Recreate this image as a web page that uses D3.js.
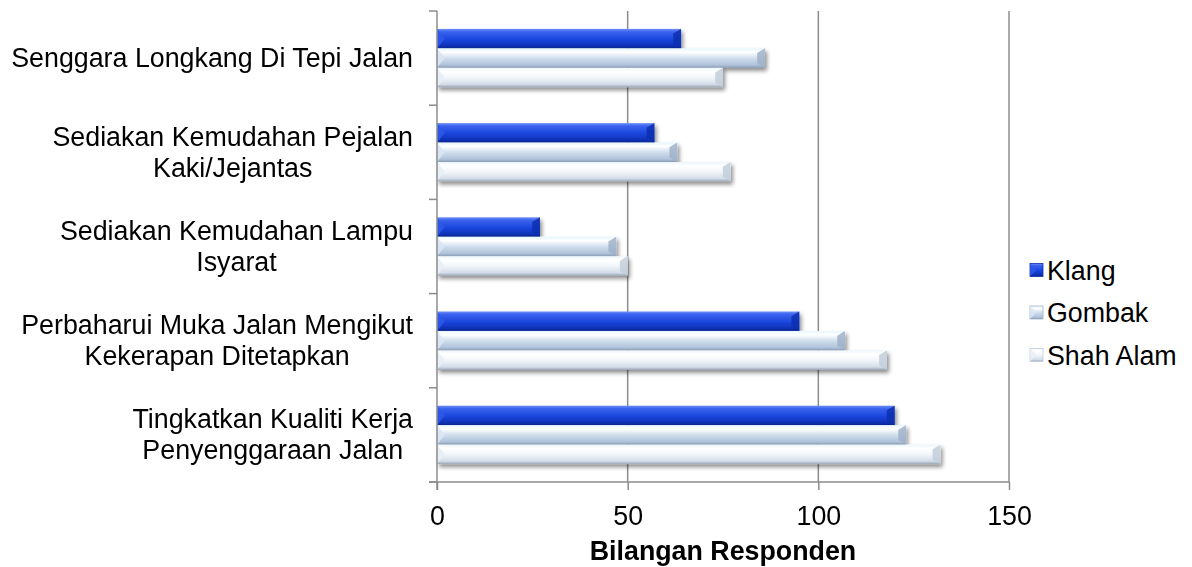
<!DOCTYPE html>
<html>
<head>
<meta charset="utf-8">
<script src="https://cdn.jsdelivr.net/npm/d3@7"></script>
<style>
  body { margin: 0; background: #fff; }
  text { font-family: "Liberation Sans", Arial, sans-serif; }
</style>
</head>
<body>
<div class="chart"></div>
<script>
// categories, top to bottom (lines for wrapped labels)
const categories = [
  ["Senggara Longkang Di Tepi Jalan"],
  ["Sediakan Kemudahan Pejalan", "Kaki/Jejantas"],
  ["Sediakan Kemudahan Lampu", "Isyarat"],
  ["Perbaharui Muka Jalan Mengikut", "Kekerapan Ditetapkan"],
  ["Tingkatkan Kualiti Kerja", "Penyenggaraan Jalan"]
];
const seriesNames = ["Klang", "Gombak", "Shah Alam"];
const klang    = [64, 57, 27, 95, 120];
const gombak   = [86, 63, 47, 107, 123];
const shahAlam = [75, 77, 50, 118, 132];
const xTicks = [0, 50, 100, 150];

const width = 1192, height = 567;
const plotLeft = 437, plotRight = 1009, plotTop = 11, plotBottom = 482;
const fontSize = 26.8;

const svg = d3.select(".chart").append("svg")
    .attr("width", width)
    .attr("height", height);

const defs = svg.append("defs");

// gradients for the bevelled bars
const grads = [
  { id: "g0", stops: [["0%", "#6f8ff5"], ["15%", "#3a63ee"], ["55%", "#1a45dc"], ["85%", "#0f33b8"], ["100%", "#0a2590"]] },
  { id: "g1", stops: [["0%", "#e6f6ff"], ["20%", "#ffffff"], ["50%", "#d0deed"], ["85%", "#b0c3da"], ["100%", "#8a9db5"]] },
  { id: "g2", stops: [["0%", "#eef6fc"], ["20%", "#ffffff"], ["50%", "#f2f6fa"], ["85%", "#d3dde8"], ["100%", "#9aa6b4"]] }
];
grads.forEach(g => {
  const lg = defs.append("linearGradient").attr("id", g.id)
      .attr("x1", 0).attr("y1", 0).attr("x2", 0).attr("y2", 1);
  g.stops.forEach(s => lg.append("stop").attr("offset", s[0]).attr("stop-color", s[1]));
});
const endColors = ["#0d2fae", "#9fb2c9", "#c2cedb"];
const leftColors = ["#2f58e8", "#d8e6f4", "#e8eef5"];

const shadow = defs.append("filter").attr("id", "shadow")
    .attr("x", "-5%").attr("y", "-30%").attr("width", "115%").attr("height", "180%");
shadow.append("feGaussianBlur").attr("in", "SourceAlpha").attr("stdDeviation", 2);
shadow.append("feOffset").attr("dx", 2).attr("dy", 3).attr("result", "b");
shadow.append("feComponentTransfer").append("feFuncA").attr("type", "linear").attr("slope", 0.45);
const merge = shadow.append("feMerge");
merge.append("feMergeNode");
merge.append("feMergeNode").attr("in", "SourceGraphic");

const x = d3.scaleLinear().domain([0, 150]).range([plotLeft, plotRight]);
const y = d3.scaleBand().domain(d3.range(categories.length)).range([plotTop, plotBottom]).paddingInner(0.38).paddingOuter(0.19);
const ySub = d3.scaleBand().domain(d3.range(seriesNames.length)).range([0, y.bandwidth()]);

// gridlines
svg.append("g")
    .selectAll("line")
    .data(xTicks.slice(1))
    .enter().append("line")
    .attr("x1", d => x(d)).attr("x2", d => x(d))
    .attr("y1", plotTop).attr("y2", plotBottom)
    .attr("stroke", "#8c8c8c").attr("stroke-width", 1.5);

// bars
const series = [klang, gombak, shahAlam];
const barG = svg.append("g").attr("filter", "url(#shadow)");
series.forEach((vals, s) => {
  vals.forEach((v, i) => {
    const y0 = y(i) + ySub(s);
    const h = ySub.bandwidth();
    const x0 = x(0), x1 = x(v);
    const b = Math.min(8, h * 0.4);
    const g = barG.append("g");
    g.append("rect")
        .attr("x", x0).attr("y", y0)
        .attr("width", x1 - x0).attr("height", h)
        .attr("fill", "url(#g" + s + ")");
    // right bevel
    g.append("polygon")
        .attr("points", [[x1 - b, y0 + b * 0.6], [x1, y0], [x1, y0 + h], [x1 - b, y0 + h - b * 0.6]].join(" "))
        .attr("fill", endColors[s]).attr("opacity", 0.85);
    // left bevel
    g.append("polygon")
        .attr("points", [[x0, y0], [x0 + b, y0 + h / 2], [x0, y0 + h]].join(" "))
        .attr("fill", leftColors[s]).attr("opacity", 0.9);
  });
});

// axes
const axisColor = "#8c8c8c";
svg.append("line").attr("x1", plotLeft).attr("x2", plotLeft).attr("y1", plotTop).attr("y2", plotBottom + 8)
    .attr("stroke", axisColor).attr("stroke-width", 1.5);
svg.append("line").attr("x1", plotLeft - 8).attr("x2", plotRight).attr("y1", plotBottom).attr("y2", plotBottom)
    .attr("stroke", axisColor).attr("stroke-width", 1.5);

const xAxis = d3.axisBottom(x).tickValues(xTicks).tickSize(8).tickPadding(16);
svg.append("g")
    .attr("transform", "translate(0," + plotBottom + ")")
    .call(xAxis)
    .call(g => g.select(".domain").remove())
    .call(g => g.selectAll("line").attr("stroke", axisColor).attr("stroke-width", 1.5))
    .call(g => g.selectAll("text").attr("font-size", fontSize).attr("fill", "#000")
        .style("font-family", "'Liberation Sans', Arial, sans-serif"));

// y category boundary ticks
const yEdges = d3.range(categories.length + 1).map(i => plotTop + i * (plotBottom - plotTop) / categories.length);
svg.append("g").selectAll("line").data(yEdges).enter().append("line")
    .attr("x1", plotLeft - 8).attr("x2", plotLeft)
    .attr("y1", d => d).attr("y2", d => d)
    .attr("stroke", axisColor).attr("stroke-width", 1.5);

// category labels, centred lines, right edge near axis
const labelRight = 413;
const lineH = 31;
categories.forEach((lines, i) => {
  const cy = y(i) + y.bandwidth() / 2;
  const t = svg.append("text").attr("font-size", fontSize).attr("fill", "#000");
  lines.forEach((ln, k) => {
    t.append("tspan").text(ln)
        .attr("y", cy + (k - (lines.length - 1) / 2) * lineH + 9);
  });
  const widths = [];
  t.selectAll("tspan").each(function() { widths.push(this.getComputedTextLength()); });
  const cx = labelRight - d3.max(widths) / 2;
  t.attr("text-anchor", "middle").selectAll("tspan").attr("x", cx);
});

// axis title
svg.append("text")
    .attr("x", (plotLeft + plotRight) / 2).attr("y", 560)
    .attr("text-anchor", "middle")
    .attr("font-size", fontSize).attr("font-weight", "bold")
    .text("Bilangan Responden");

// legend
const legend = svg.selectAll(".legend")
    .data(seriesNames)
    .enter().append("g")
    .attr("class", "legend")
    .attr("transform", (d, i) => "translate(1030," + (270 + i * 42.5) + ")");
legend.append("rect")
    .attr("x", 0).attr("y", -6.5).attr("width", 13).attr("height", 13)
    .attr("fill", (d, i) => "url(#g" + i + ")")
    .attr("stroke", (d, i) => endColors[i]).attr("stroke-width", 0.8);
legend.append("polygon")
    .attr("points", "0,-6.5 6.5,0 0,6.5")
    .attr("fill", (d, i) => leftColors[i]).attr("opacity", 0.8);
legend.append("text")
    .attr("x", 17).attr("y", 9.5)
    .attr("font-size", fontSize)
    .text(d => d);
</script>
</body>
</html>
